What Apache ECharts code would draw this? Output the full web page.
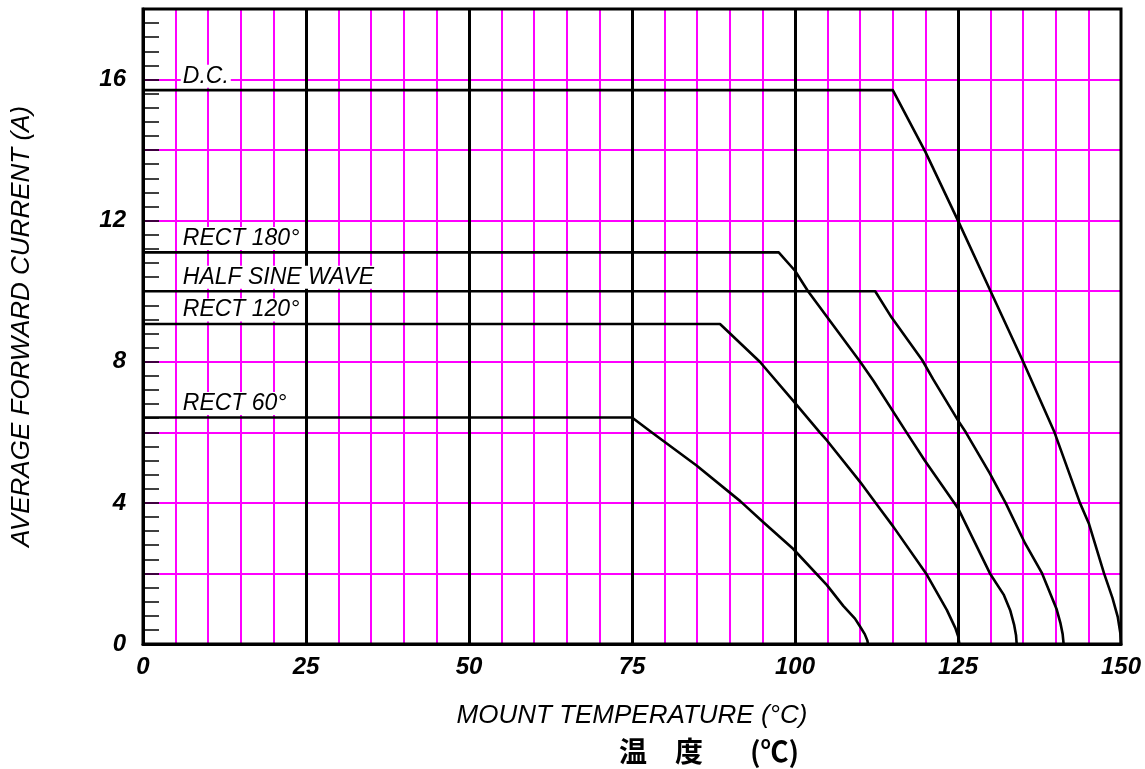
<!DOCTYPE html>
<html>
<head>
<meta charset="utf-8">
<script src="https://cdn.jsdelivr.net/npm/echarts@6/dist/echarts.min.js"></script>
<style>
html,body{margin:0;padding:0;background:#fff;}
#chart{width:1145px;height:769px;}
</style>
</head>
<body>
<div id="chart"></div>
<script>
// ---- data ----
const seriesNames = ['D.C.', 'RECT 180°', 'HALF SINE WAVE', 'RECT 120°', 'RECT 60°'];

const dcT = [0, 115, 120, 125, 130, 135, 139.8, 143.7, 145.1, 147.4, 148.7, 149.5, 149.9, 150];
const dcI = [15.7, 15.7, 13.95, 12, 10, 8, 6, 4, 3.4, 2, 1.3, 0.77, 0.3, 0];

const rect180T = [0, 97.5, 100, 102, 110, 112, 117.1, 119.9, 125, 129.9, 132, 133, 133.6, 133.9, 134];
const rect180I = [11.1, 11.1, 10.58, 10, 8, 7.47, 6, 5.2, 3.85, 2, 1.4, 0.96, 0.55, 0.25, 0];

const halfT = [0, 112.3, 114.8, 119.5, 121.2, 125, 126.2, 129.9, 132.3, 135.3, 137.9, 140.1, 140.7, 141.05, 141.2];
const halfI = [10, 10, 9.26, 8.05, 7.5, 6.34, 6, 4.83, 4, 2.85, 2, 1.0, 0.6, 0.28, 0];

const rect120T = [0, 88.5, 94.6, 99.7, 103.8, 104.9, 110, 113, 115.1, 120.1, 123.3, 124.6, 125.05, 125.2];
const rect120I = [9.07, 9.07, 8, 6.9, 6, 5.77, 4.59, 3.84, 3.32, 2, 0.96, 0.45, 0.2, 0];

const rect60T = [0, 75, 78, 84.9, 91.6, 95.1, 99.7, 104.9, 107.4, 109.2, 110, 110.7, 111.1, 111.2];
const rect60I = [6.42, 6.42, 6, 5.06, 4.05, 3.46, 2.7, 1.67, 1.08, 0.72, 0.49, 0.28, 0.1, 0];

const xTickLabels = [0, 25, 50, 75, 100, 125, 150];
const yTickLabels = [0, 4, 8, 12, 16];

const xTitle = 'MOUNT TEMPERATURE (°C)';
const xTitleCn = ['温　度', '(℃)'];
const yTitle = 'AVERAGE FORWARD CURRENT (A)';

// ---- build ----
const FONT = '"Liberation Sans", Arial, sans-serif';
const MAG = '#ff00ff';

function pairs(xs, ys) { return xs.map((x, i) => [x, ys[i]]); }

const curves = [
  [dcT, dcI], [rect180T, rect180I], [halfT, halfI], [rect120T, rect120I], [rect60T, rect60I]
];

const series = curves.map((c, k) => ({
  name: seriesNames[k],
  type: 'line',
  data: pairs(c[0], c[1]),
  showSymbol: false,
  symbol: 'none',
  smooth: false,
  lineStyle: { color: '#000', width: 2.6, join: 'round' },
  z: 4,
  markPoint: {
    symbol: 'circle',
    symbolSize: 0,
    silent: true,
    data: [{ coord: [6.1, c[1][0]] }],
    label: {
      show: true,
      formatter: seriesNames[k],
      position: 'right',
      distance: 0,
      offset: [-2, -14],
      color: '#000',
      fontFamily: FONT,
      fontStyle: 'italic',
      fontSize: 23,
      backgroundColor: '#fff',
      padding: [0, 2, 0, 2]
    }
  }
}));

const chart = echarts.init(document.getElementById('chart'), null, { renderer: 'canvas' });
chart.setOption({
  animation: false,
  backgroundColor: '#fff',
  grid: { left: 143, right: 24, top: 9, bottom: 125, show: true, borderColor: '#000', borderWidth: 3, z: 6 },
  xAxis: [
    {
      type: 'value', min: 0, max: 150, interval: 5,
      axisLine: { show: true, lineStyle: { color: '#000', width: 3 } },
      axisTick: { show: false },
      axisLabel: {
        formatter: v => (xTickLabels.indexOf(v) >= 0 ? String(v) : ''),
        color: '#000', fontFamily: FONT, fontStyle: 'italic', fontWeight: 'bold', fontSize: 24, margin: 11,
        showMinLabel: true, showMaxLabel: true
      },
      splitLine: { show: true, showMinLine: false, showMaxLine: false, lineStyle: { color: MAG, width: 2 } },
      name: xTitle, nameLocation: 'middle', nameGap: 59,
      nameTextStyle: { color: '#000', fontFamily: FONT, fontStyle: 'italic', fontSize: 26 }
    },
    {
      type: 'value', min: 0, max: 150, interval: 25, position: 'bottom',
      axisLine: { show: false }, axisTick: { show: false }, axisLabel: { show: false },
      splitLine: { show: true, showMinLine: false, showMaxLine: false, lineStyle: { color: '#000', width: 3 } }
    }
  ],
  yAxis: {
    type: 'value', min: 0, max: 18, interval: 2,
    axisLine: { show: true, lineStyle: { color: '#000', width: 3 } },
    axisTick: { show: true, inside: true, length: 16, lineStyle: { color: '#000', width: 1.5 } },
    minorTick: { show: true, splitNumber: 5, length: 16, lineStyle: { color: '#000', width: 1.5 } },
    axisLabel: {
      formatter: v => (yTickLabels.indexOf(v) >= 0 ? String(v) : ''),
      color: '#000', fontFamily: FONT, fontStyle: 'italic', fontWeight: 'bold', fontSize: 24, margin: 17
    },
    splitLine: { show: true, showMinLine: false, showMaxLine: false, lineStyle: { color: MAG, width: 2 } },
    name: yTitle, nameLocation: 'middle', nameGap: 108,
    nameTextStyle: { color: '#000', fontFamily: FONT, fontStyle: 'italic', fontSize: 26 }
  },
  graphic: [
    {
      type: 'text', left: 619, top: 737,
      style: { text: xTitleCn[0], fill: '#000', font: 'bold 28px "Noto Sans CJK JP", sans-serif' }
    },
    {
      type: 'text', left: 750, top: 737,
      style: { text: xTitleCn[1], fill: '#000', font: 'bold 28px "Noto Sans CJK JP", sans-serif' }
    }
  ],
  series: series
});
</script>
</body>
</html>
